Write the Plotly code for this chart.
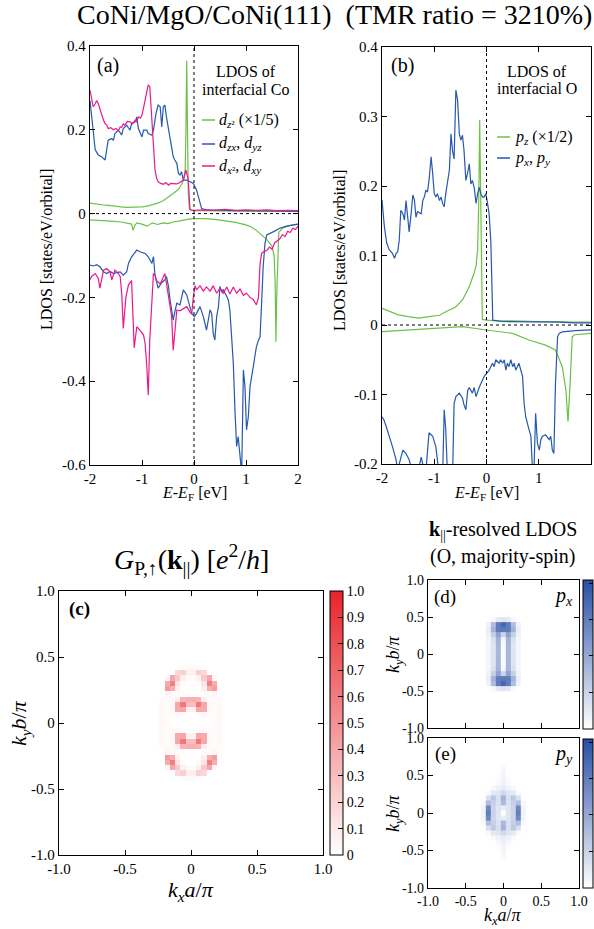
import plotly.graph_objects as go

SERIF = "Liberation Serif"
W, H = 594, 929

# ---------------- data: panel (a) interfacial Co LDOS ----------------
a_green_up = [(-2.0,0.025),(-1.9,0.023),(-1.8,0.022),(-1.7,0.02),(-1.6,0.019),(-1.5,0.017),(-1.4,0.016),(-1.3,0.015),
              (-1.2,0.015),(-1.1,0.016),(-1.0,0.016),(-0.9,0.018),(-0.8,0.021),(-0.7,0.025),(-0.6,0.03),(-0.5,0.038),
              (-0.4,0.048),(-0.3,0.058),(-0.25,0.067),(-0.2,0.08),(-0.17,0.105),(-0.155,0.2),(-0.14,0.365),(-0.125,0.2),
              (-0.11,0.05),(-0.09,0.012),(-0.05,0.008),(0.0,0.007),(0.3,0.007),(0.6,0.006),(0.9,0.006),(1.2,0.005),
              (1.5,0.005),(1.8,0.005),(2.0,0.005)]
a_green_dn = [(-2.0,-0.015),(-1.8,-0.016),(-1.6,-0.018),(-1.4,-0.02),(-1.3,-0.022),(-1.2,-0.025),(-1.17,-0.04),
              (-1.14,-0.028),(-1.1,-0.022),(-1.0,-0.025),(-0.9,-0.03),(-0.8,-0.022),(-0.7,-0.026),(-0.6,-0.022),
              (-0.5,-0.024),(-0.4,-0.02),(-0.3,-0.018),(-0.2,-0.015),(-0.1,-0.013),(0.0,-0.012),(0.2,-0.012),
              (0.4,-0.014),(0.6,-0.017),(0.8,-0.021),(1.0,-0.027),(1.1,-0.032),(1.2,-0.04),(1.3,-0.05),(1.4,-0.062),
              (1.5,-0.078),(1.54,-0.1),(1.56,-0.16),(1.575,-0.306),(1.59,-0.2),(1.61,-0.08),(1.63,-0.045),
              (1.7,-0.035),(1.8,-0.03),(1.9,-0.027),(2.0,-0.025)]
a_blue_up = [(-2.0,0.27),(-1.96,0.22),(-1.9,0.152),(-1.84,0.14),(-1.78,0.136),(-1.71,0.128),(-1.68,0.148),(-1.65,0.175),
             (-1.58,0.179),(-1.55,0.175),(-1.52,0.191),(-1.455,0.199),(-1.39,0.188),(-1.36,0.203),(-1.295,0.211),
             (-1.23,0.199),(-1.2,0.215),(-1.13,0.219),(-1.1,0.231),(-1.07,0.203),(-1.0,0.183),(-0.97,0.199),(-0.91,0.199),
             (-0.88,0.191),(-0.81,0.187),(-0.78,0.199),(-0.73,0.239),(-0.69,0.259),(-0.65,0.255),(-0.62,0.207),
             (-0.59,0.255),(-0.56,0.259),(-0.53,0.231),(-0.49,0.199),(-0.46,0.175),(-0.43,0.152),(-0.4,0.136),
             (-0.37,0.128),(-0.33,0.12),(-0.3,0.096),(-0.27,0.092),(-0.24,0.1),(-0.205,0.08),(-0.14,0.08),(-0.077,0.076),
             (-0.013,0.072),(0.05,0.056),(0.083,0.04),(0.115,0.024),(0.147,0.012),(0.24,0.009),(0.4,0.008),(0.6,0.008),
             (0.8,0.007),(1.0,0.007),(1.2,0.007),(1.4,0.006),(1.6,0.006),(1.8,0.006),(2.0,0.005)]
a_blue_dn = [(-2.0,-0.123),(-1.936,-0.125),(-1.87,-0.122),(-1.81,-0.127),(-1.74,-0.139),(-1.68,-0.143),(-1.615,-0.138),
             (-1.55,-0.143),(-1.49,-0.141),(-1.42,-0.139),(-1.36,-0.147),(-1.295,-0.139),(-1.26,-0.119),(-1.2,-0.103),
             (-1.1,-0.087),(-1.04,-0.091),(-0.94,-0.095),(-0.88,-0.103),(-0.81,-0.119),(-0.78,-0.103),(-0.75,-0.147),
             (-0.69,-0.178),(-0.62,-0.165),(-0.56,-0.158),(-0.53,-0.15),(-0.49,-0.174),(-0.46,-0.206),(-0.4,-0.254),
             (-0.365,-0.232),(-0.33,-0.214),(-0.27,-0.218),(-0.205,-0.182),(-0.14,-0.194),(-0.077,-0.222),
             (-0.045,-0.238),(0.006,-0.246),(0.05,-0.238),(0.115,-0.222),(0.18,-0.246),(0.24,-0.278),(0.31,-0.23),
             (0.34,-0.238),(0.37,-0.286),(0.4,-0.302),(0.436,-0.246),(0.47,-0.222),(0.5,-0.174),(0.53,-0.186),
             (0.56,-0.182),(0.63,-0.198),(0.66,-0.206),(0.69,-0.23),(0.72,-0.278),(0.756,-0.357),(0.79,-0.477),
             (0.82,-0.556),(0.85,-0.532),(0.885,-0.58),(0.917,-0.62),(0.95,-0.373),(0.98,-0.413),(1.01,-0.516),
             (1.045,-0.485),(1.077,-0.413),(1.11,-0.381),(1.14,-0.365),(1.17,-0.341),(1.2,-0.318),(1.24,-0.302),
             (1.27,-0.294),(1.3,-0.214),(1.33,-0.127),(1.365,-0.071),(1.4,-0.051),(1.53,-0.043),(1.65,-0.035),
             (1.78,-0.03),(1.9,-0.027),(2.0,-0.025)]
a_pink_up = [(-2.0,0.295),(-1.97,0.27),(-1.94,0.255),(-1.9,0.262),(-1.87,0.27),(-1.84,0.262),(-1.81,0.25),(-1.77,0.232),
             (-1.74,0.223),(-1.71,0.215),(-1.68,0.212),(-1.65,0.203),(-1.6,0.205),(-1.55,0.2),(-1.5,0.203),
             (-1.455,0.198),(-1.42,0.207),(-1.39,0.206),(-1.36,0.214),(-1.33,0.211),(-1.28,0.22),(-1.23,0.219),
             (-1.18,0.214),(-1.13,0.223),(-1.1,0.219),(-1.07,0.231),(-1.03,0.228),(-1.0,0.235),(-0.97,0.25),
             (-0.94,0.271),(-0.91,0.29),(-0.88,0.307),(-0.85,0.303),(-0.83,0.26),(-0.81,0.207),(-0.78,0.144),
             (-0.75,0.104),(-0.72,0.085),(-0.69,0.076),(-0.64,0.072),(-0.59,0.07),(-0.54,0.074),(-0.49,0.068),
             (-0.45,0.072),(-0.4,0.072),(-0.33,0.071),(-0.27,0.074),(-0.205,0.08),(-0.154,0.104),(-0.11,0.08),
             (-0.077,0.009),(0.0,0.008),(0.2,0.009),(0.4,0.008),(0.6,0.01),(0.8,0.008),(1.0,0.009),(1.2,0.008),
             (1.4,0.009),(1.6,0.007),(1.8,0.008),(2.0,0.007)]
a_pink_dn = [(-2.0,-0.158),(-1.97,-0.15),(-1.9,-0.143),(-1.84,-0.155),(-1.81,-0.178),(-1.78,-0.158),(-1.74,-0.135),
             (-1.68,-0.131),(-1.615,-0.139),(-1.58,-0.158),(-1.52,-0.135),(-1.455,-0.143),(-1.42,-0.15),(-1.39,-0.19),
             (-1.36,-0.274),(-1.31,-0.2),(-1.26,-0.17),(-1.2,-0.16),(-1.15,-0.32),(-1.1,-0.27),(-1.04,-0.278),
             (-0.97,-0.29),(-0.94,-0.31),(-0.91,-0.36),(-0.88,-0.433),(-0.85,-0.3),(-0.81,-0.2),(-0.78,-0.143),
             (-0.75,-0.147),(-0.72,-0.16),(-0.65,-0.168),(-0.56,-0.143),(-0.53,-0.166),(-0.49,-0.198),(-0.43,-0.246),
             (-0.4,-0.326),(-0.365,-0.27),(-0.33,-0.23),(-0.27,-0.232),(-0.205,-0.228),(-0.14,-0.222),(-0.077,-0.235),
             (-0.045,-0.24),(-0.013,-0.2),(0.02,-0.172),(0.05,-0.182),(0.115,-0.172),(0.18,-0.185),(0.24,-0.175),
             (0.31,-0.185),(0.37,-0.172),(0.436,-0.19),(0.5,-0.178),(0.56,-0.19),(0.63,-0.175),(0.69,-0.192),
             (0.756,-0.175),(0.82,-0.19),(0.885,-0.18),(0.95,-0.195),(1.01,-0.19),(1.077,-0.2),(1.14,-0.205),
             (1.2,-0.218),(1.24,-0.2),(1.27,-0.12),(1.3,-0.095),(1.35,-0.09),(1.4,-0.088),(1.45,-0.08),(1.5,-0.085),
             (1.55,-0.07),(1.6,-0.065),(1.65,-0.06),(1.7,-0.05),(1.75,-0.055),(1.8,-0.042),(1.85,-0.045),(1.9,-0.035),
             (1.95,-0.038),(2.0,-0.03)]

# ---------------- data: panel (b) interfacial O LDOS ----------------
b_green_up = [(-2.0,0.024),(-1.8,0.018),(-1.7,0.015),(-1.5,0.012),(-1.3,0.01),(-1.1,0.012),(-0.9,0.014),(-0.78,0.019),
              (-0.59,0.026),(-0.46,0.036),(-0.33,0.055),(-0.24,0.074),(-0.2,0.085),(-0.17,0.108),(-0.15,0.17),
              (-0.13,0.295),(-0.11,0.15),(-0.095,0.02),(-0.08,0.008),(0.0,0.007),(0.2,0.006),(0.5,0.006),(0.8,0.005),
              (1.0,0.005),(1.3,0.005),(1.6,0.004),(2.0,0.004)]
b_green_dn = [(-2.0,-0.0096),(-1.5,-0.007),(-1.1,-0.005),(-0.46,-0.0024),(0.0,-0.0072),(0.5,-0.012),(0.815,-0.0216),
              (1.13,-0.029),(1.32,-0.036),(1.45,-0.06),(1.52,-0.094),(1.56,-0.139),(1.6,-0.084),(1.64,-0.017),
              (1.69,-0.014),(2.0,-0.012)]
b_blue_up = [(-2.0,0.18),(-1.955,0.142),(-1.91,0.118),(-1.86,0.108),(-1.8,0.103),(-1.76,0.096),(-1.73,0.103),(-1.7,0.105),
             (-1.67,0.122),(-1.64,0.165),(-1.6,0.16),(-1.57,0.151),(-1.54,0.179),(-1.51,0.16),(-1.48,0.134),(-1.45,0.155),
             (-1.41,0.187),(-1.38,0.18),(-1.35,0.155),(-1.32,0.163),(-1.25,0.16),(-1.22,0.179),(-1.19,0.184),
             (-1.16,0.194),(-1.13,0.191),(-1.1,0.208),(-1.06,0.242),(-1.03,0.218),(-1.0,0.189),(-0.97,0.184),
             (-0.94,0.189),(-0.9,0.179),(-0.87,0.184),(-0.84,0.175),(-0.81,0.17),(-0.78,0.189),(-0.745,0.208),
             (-0.71,0.223),(-0.68,0.275),(-0.65,0.251),(-0.62,0.239),(-0.586,0.338),(-0.554,0.324),(-0.52,0.275),
             (-0.49,0.266),(-0.46,0.273),(-0.43,0.251),(-0.395,0.208),(-0.363,0.218),(-0.33,0.232),(-0.3,0.203),
             (-0.27,0.208),(-0.236,0.198),(-0.2,0.175),(-0.17,0.189),(-0.14,0.198),(-0.108,0.189),(-0.076,0.184),
             (-0.045,0.184),(-0.013,0.189),(0.02,0.175),(0.05,0.16),(0.083,0.12),(0.1,0.04),(0.12,0.007),(0.3,0.005),
             (0.6,0.005),(1.0,0.004),(1.4,0.004),(1.7,0.003),(2.0,0.003)]
b_blue_dn = [(-2.0,-0.132),(-1.96,-0.137),(-1.92,-0.146),(-1.86,-0.16),(-1.8,-0.175),(-1.73,-0.194),(-1.7,-0.21),
             (-1.67,-0.2),(-1.6,-0.18),(-1.54,-0.185),(-1.48,-0.194),(-1.41,-0.215),(-1.35,-0.21),(-1.29,-0.205),
             (-1.25,-0.19),(-1.22,-0.2),(-1.16,-0.21),(-1.1,-0.155),(-1.03,-0.16),(-0.97,-0.175),(-0.9,-0.22),
             (-0.84,-0.22),(-0.81,-0.122),(-0.78,-0.15),(-0.745,-0.22),(-0.65,-0.22),(-0.62,-0.113),(-0.586,-0.103),
             (-0.52,-0.098),(-0.46,-0.105),(-0.43,-0.115),(-0.395,-0.122),(-0.36,-0.094),(-0.33,-0.09),(-0.27,-0.098),
             (-0.236,-0.09),(-0.2,-0.103),(-0.17,-0.095),(-0.14,-0.09),(-0.076,-0.079),(-0.045,-0.074),(0.0,-0.07),
             (0.05,-0.065),(0.115,-0.055),(0.146,-0.06),(0.178,-0.05),(0.24,-0.055),(0.27,-0.05),(0.31,-0.055),
             (0.34,-0.05),(0.37,-0.065),(0.4,-0.055),(0.43,-0.06),(0.465,-0.05),(0.5,-0.06),(0.53,-0.055),(0.56,-0.065),
             (0.62,-0.055),(0.69,-0.074),(0.72,-0.113),(0.75,-0.132),(0.815,-0.151),(0.85,-0.16),(0.88,-0.21),
             (0.91,-0.205),(0.94,-0.127),(0.975,-0.17),(1.01,-0.18),(1.04,-0.165),(1.07,-0.16),(1.13,-0.158),
             (1.2,-0.165),(1.23,-0.16),(1.26,-0.18),(1.29,-0.185),(1.32,-0.084),(1.36,-0.017),(1.39,-0.012),
             (1.45,-0.01),(1.7,-0.008),(2.0,-0.007)]

# ---------------- data: k-resolved maps (values in %) ----------------
# (c) conductance map, cells of 0.04
c_kx = [-0.22,-0.18,-0.14,-0.10,-0.06,-0.02,0.02,0.06,0.10,0.14,0.18,0.22]
c_ky = [0.42,0.38,0.34,0.30,0.26,0.22,0.18,0.14,0.10,0.06,0.02,-0.02,-0.06,-0.10,-0.14,-0.18,-0.22,-0.26,-0.30,-0.34,-0.38,-0.42]
c_G = [
    [0,0,0,0,2,3,3,2,0,0,0,0],
    [0,0,0,18,22,7,7,22,18,0,0,0],
    [0,4,40,25,7,2,2,7,25,40,4,0],
    [0,38,58,12,2,0,0,2,12,58,38,0],
    [0,45,36,7,0,0,0,0,7,36,45,0],
    [1,5,3,2,1,1,1,1,2,3,5,1],
    [2,2,2,8,34,36,36,34,8,2,2,2],
    [3,2,3,40,62,30,30,62,40,3,2,3],
    [3,2,3,38,40,7,7,40,38,3,2,3],
    [3,2,2,3,2,1,1,2,3,2,2,3],
    [3,2,1,1,0,0,0,0,1,1,2,3],
    [3,2,1,1,0,0,0,0,1,1,2,3],
    [3,2,2,3,2,1,1,2,3,2,2,3],
    [3,2,3,38,40,7,7,40,38,3,2,3],
    [3,2,3,40,62,30,30,62,40,3,2,3],
    [2,2,2,8,34,36,36,34,8,2,2,2],
    [1,5,3,2,1,1,1,1,2,3,5,1],
    [0,45,36,7,0,0,0,0,7,36,45,0],
    [0,38,58,12,2,0,0,2,12,58,38,0],
    [0,4,40,25,7,2,2,7,25,40,4,0],
    [0,0,0,18,22,7,7,22,18,0,0,0],
    [0,0,0,0,2,3,3,2,0,0,0,0],
]
# (d), (e) k-resolved LDOS maps, cells of 1/15
de_kx = [-0.267,-0.2,-0.133,-0.067,0.0,0.067,0.133,0.2,0.267]
d_ky = [0.533,0.467,0.4,0.333,0.267,0.2,0.133,0.067,0.0,-0.067,-0.133,-0.2,-0.267,-0.333,-0.4,-0.467,-0.533]
d_px = [
    [0,0,0,0,0,0,0,0,0],
    [0,0,3,10,12,10,3,0,0],
    [0,6,30,60,70,60,30,6,0],
    [0,8,35,60,62,60,35,8,0],
    [0,6,22,42,20,42,22,6,0],
    [0,4,14,35,4,35,14,4,0],
    [0,4,12,34,2,34,12,4,0],
    [0,4,12,33,2,33,12,4,0],
    [0,4,12,33,2,33,12,4,0],
    [0,4,12,33,2,33,12,4,0],
    [0,4,12,34,2,34,12,4,0],
    [0,4,14,35,4,35,14,4,0],
    [0,6,22,42,20,42,22,6,0],
    [0,8,35,60,62,60,35,8,0],
    [0,6,30,60,70,60,30,6,0],
    [0,0,3,10,12,10,3,0,0],
    [0,0,0,0,0,0,0,0,0],
]
e_ky = [0.6,0.533,0.467,0.4,0.333,0.267,0.2,0.133,0.067,0.0,-0.067,-0.133,-0.2,-0.267,-0.333,-0.4,-0.467,-0.533,-0.6]
e_py = [
    [0,0,0,0,3,0,0,0,0],
    [0,0,0,0,4,0,0,0,0],
    [0,0,0,1,5,1,0,0,0],
    [0,0,0,3,6,3,0,0,0],
    [0,0,3,6,9,6,3,0,0],
    [0,3,10,12,18,12,10,3,0],
    [0,15,25,15,35,15,25,15,0],
    [3,30,22,14,32,14,22,30,3],
    [5,55,20,12,8,12,20,55,5],
    [5,60,20,12,0,12,20,60,5],
    [5,55,20,12,8,12,20,55,5],
    [3,30,22,14,32,14,22,30,3],
    [0,15,25,15,35,15,25,15,0],
    [0,3,10,12,18,12,10,3,0],
    [0,0,3,6,9,6,3,0,0],
    [0,0,0,3,6,3,0,0,0],
    [0,0,0,1,5,1,0,0,0],
    [0,0,0,0,4,0,0,0,0],
    [0,0,0,0,3,0,0,0,0],
]

E_TICKS = [-2, -1, 0, 1, 2]
E_TICKTEXT = ["-2", "-1", "0", "1", "2"]
A_YTICKS = [0.4, 0.2, 0, -0.2, -0.4, -0.6]
A_YTICKTEXT = ["0.4", "0.2", "0", "-0.2", "-0.4", "-0.6"]
B_YTICKS = [0.4, 0.3, 0.2, 0.1, 0, -0.1, -0.2]
B_YTICKTEXT = ["0.4", "0.3", "0.2", "0.1", "0", "-0.1", "-0.2"]
K_TICKS = [-1, -0.5, 0, 0.5, 1]
K_TICKTEXT = ["-1.0", "-0.5", "0", "0.5", "1.0"]
CB_C_TICKS = [0, 0.1, 0.2, 0.3, 0.4, 0.5, 0.6, 0.7, 0.8, 0.9, 1.0]
CB_C_TEXT = ["0", "0.1", "0.2", "0.3", "0.4", "0.5", "0.6", "0.7", "0.8", "0.9", "1.0"]
CB_B_TICKS = [0, 0.2, 0.4, 0.6, 0.8]
CB_B_TEXT = ["0", "0.2", "0.4", "0.6", "0.8"]

GREEN = "rgb(108,192,70)"
BLUE = "rgb(38,88,175)"
PINK = "rgb(236,24,138)"
RED_TOP = "rgb(232,36,42)"
BLUE_TOP = "rgb(40,78,165)"


def X(px):
    return px / W


def Y(py):
    return 1 - py / H


def unzip(pairs):
    return [p[0] for p in pairs], [p[1] for p in pairs]


fig = go.Figure()


def add_line(pairs, color, xa, ya):
    xs, ys = unzip(pairs)
    fig.add_trace(go.Scatter(x=xs, y=ys, mode="lines", line=dict(color=color, width=1.2),
                             xaxis=xa, yaxis=ya, showlegend=False, hoverinfo="skip"))


for pairs, col in [(a_green_up, GREEN), (a_green_dn, GREEN), (a_blue_up, BLUE), (a_blue_dn, BLUE),
                   (a_pink_up, PINK), (a_pink_dn, PINK)]:
    add_line(pairs, col, "x", "y")
for pairs, col in [(b_green_up, GREEN), (b_green_dn, GREEN), (b_blue_up, BLUE), (b_blue_dn, BLUE)]:
    add_line(pairs, col, "x2", "y2")

pct = lambda rows: [[v / 100 for v in r] for r in rows]

fig.add_trace(go.Heatmap(x=c_kx, y=c_ky, z=pct(c_G), xaxis="x3", yaxis="y3", zmin=0, zmax=1,
                         colorscale=[[0, "white"], [1, RED_TOP]], zsmooth=False, hoverinfo="skip",
                         colorbar=dict(x=X(330), xanchor="left", xpad=0, y=Y(723), yanchor="middle", ypad=0,
                                       len=264, lenmode="pixels", thickness=13, thicknessmode="pixels",
                                       outlinewidth=1, outlinecolor="black", ticks="inside", ticklen=5,
                                       tickcolor="black", tickvals=CB_C_TICKS, ticktext=CB_C_TEXT,
                                       tickfont=dict(family=SERIF, size=14, color="black"))))
for z, ky, xa, ya, yc in [(d_px, d_ky, "x4", "y4", 654), (e_py, e_ky, "x5", "y5", 813)]:
    fig.add_trace(go.Heatmap(x=de_kx, y=ky, z=pct(z), xaxis=xa, yaxis=ya,
                             zmin=0, zmax=0.82, colorscale=[[0, "white"], [1, BLUE_TOP]], zsmooth=False,
                             hoverinfo="skip",
                             colorbar=dict(x=X(583), xanchor="left", xpad=0, y=Y(yc), yanchor="middle", ypad=0,
                                           len=149, lenmode="pixels", thickness=10, thicknessmode="pixels",
                                           outlinewidth=1, outlinecolor="black", ticks="inside", ticklen=4,
                                           tickcolor="black", tickvals=CB_B_TICKS, ticktext=CB_B_TEXT,
                                           tickfont=dict(family=SERIF, size=13, color="black"))))

axis_common = dict(showline=True, linecolor="black", linewidth=1.3, mirror="allticks", ticks="inside",
                   ticklen=5, tickcolor="black", tickwidth=1, showgrid=False, zeroline=False,
                   tickfont=dict(family=SERIF, size=15, color="black"), fixedrange=True)
small_font = dict(family=SERIF, size=14, color="black")

fig.update_layout(
    width=W, height=H, margin=dict(l=0, r=0, t=0, b=0, autoexpand=False),
    paper_bgcolor="white", plot_bgcolor="white", showlegend=False,
    xaxis=dict(axis_common, domain=[X(90), X(298)], range=[-2, 2], anchor="y", tickvals=E_TICKS, ticktext=E_TICKTEXT),
    yaxis=dict(axis_common, domain=[Y(465), Y(46)], range=[-0.6, 0.4], anchor="x", tickvals=A_YTICKS, ticktext=A_YTICKTEXT),
    xaxis2=dict(axis_common, domain=[X(382), X(591)], range=[-2, 2], anchor="y2", tickvals=E_TICKS, ticktext=E_TICKTEXT),
    yaxis2=dict(axis_common, domain=[Y(464), Y(47)], range=[-0.2, 0.4], anchor="x2", tickvals=B_YTICKS, ticktext=B_YTICKTEXT),
    xaxis3=dict(axis_common, domain=[X(59), X(323)], range=[-1, 1], anchor="y3", tickvals=K_TICKS, ticktext=K_TICKTEXT),
    yaxis3=dict(axis_common, domain=[Y(855), Y(591)], range=[-1, 1], anchor="x3", tickvals=K_TICKS, ticktext=K_TICKTEXT),
    xaxis4=dict(axis_common, domain=[X(428), X(579)], range=[-1, 1], anchor="y4", tickvals=K_TICKS,
                showticklabels=False),
    yaxis4=dict(axis_common, domain=[Y(728), Y(580)], range=[-1, 1], anchor="x4", tickvals=K_TICKS,
                ticktext=K_TICKTEXT, tickfont=small_font),
    xaxis5=dict(axis_common, domain=[X(428), X(579)], range=[-1, 1], anchor="y5", tickvals=K_TICKS,
                ticktext=K_TICKTEXT, tickfont=small_font),
    yaxis5=dict(axis_common, domain=[Y(888), Y(738)], range=[-1, 1], anchor="x5", tickvals=K_TICKS,
                ticktext=K_TICKTEXT, tickfont=small_font),
)

shapes = []
for xr, yr in [("x", "y"), ("x2", "y2")]:
    shapes.append(dict(type="line", xref=xr, yref=yr + " domain", x0=0, x1=0, y0=0, y1=1,
                       line=dict(color="black", width=1, dash="dot")))
    shapes.append(dict(type="line", xref=xr + " domain", yref=yr, x0=0, x1=1, y0=0, y1=0,
                       line=dict(color="black", width=1, dash="dot")))
# legend line keys
for px0, px1, py, col in [(202, 215, 120, GREEN), (202, 215, 144, BLUE), (202, 215, 166, PINK),
                          (497, 510, 137, GREEN), (497, 510, 158, BLUE)]:
    shapes.append(dict(type="line", xref="paper", yref="paper", x0=X(px0), x1=X(px1), y0=Y(py), y1=Y(py),
                       line=dict(color=col, width=1.5)))
fig.update_layout(shapes=shapes)


def ann(text, px, py, size, xanchor="center", angle=0):
    return dict(text=text, x=X(px), y=Y(py), xref="paper", yref="paper", showarrow=False,
                xanchor=xanchor, yanchor="middle", textangle=angle,
                font=dict(family=SERIF, size=size, color="black"))


KY = "<i>k</i><sub><i>y</i></sub><i>b</i>/<i>π</i>"
KX = "<i>k</i><sub><i>x</i></sub><i>a</i>/<i>π</i>"
EEF = "<i>E</i>-<i>E</i><sub>F</sub> [eV]"
LDOS = "LDOS [states/eV/orbital]"

annotations = [
    ann("CoNi/MgO/CoNi(111)\u00a0\u00a0(TMR ratio = 3210%)", 334, 15, 28),
    ann("(a)", 108, 66, 20),
    ann("LDOS of", 246, 72, 16),
    ann("interfacial Co", 246, 90, 16),
    ann("<i>d</i><sub><i>z</i>²</sub> (×1/5)", 217, 120, 16, "left"),
    ann("<i>d</i><sub><i>zx</i></sub>, <i>d</i><sub><i>yz</i></sub>", 217, 144, 16, "left"),
    ann("<i>d</i><sub><i>x</i>²</sub>, <i>d</i><sub><i>xy</i></sub>", 217, 166, 16, "left"),
    ann("(b)", 402, 66, 20),
    ann("LDOS of", 537, 72, 16),
    ann("interfacial O", 537, 89, 16),
    ann("<i>p</i><sub><i>z</i></sub> (×1/2)", 513, 137, 16, "left"),
    ann("<i>p</i><sub><i>x</i></sub>, <i>p</i><sub><i>y</i></sub>", 513, 158, 16, "left"),
    ann(LDOS, 47, 250, 16, angle=-90),
    ann(LDOS, 340, 250, 16, angle=-90),
    ann(EEF, 194, 494, 16),
    ann(EEF, 486, 494, 16),
    ann("<i>G</i><sub>P,↑</sub>(<b>k</b><sub>||</sub>) [<i>e</i><sup>2</sup>/<i>h</i>]", 191, 559, 28),
    ann("<b>(c)</b>", 79, 609, 19),
    ann(KY, 20, 723, 22, angle=-90),
    ann(KX, 191, 891, 22),
    ann("<b>k</b><sub>||</sub>-resolved LDOS", 503, 530, 20),
    ann("(O, majority-spin)", 503, 556, 20),
    ann("(d)", 445, 597, 19),
    ann("<i>p</i><sub><i>x</i></sub>", 563, 596, 20),
    ann("(e)", 445, 754, 19),
    ann("<i>p</i><sub><i>y</i></sub>", 563, 754, 20),
    ann(KY, 394, 654, 18, angle=-90),
    ann(KY, 394, 813, 18, angle=-90),
    ann(KX, 503, 916, 18),
]
fig.update_layout(annotations=annotations)

fig.write_html("out.html", config={"displayModeBar": False},
               post_script="document.body.style.margin='0';document.body.style.overflow='hidden';")
